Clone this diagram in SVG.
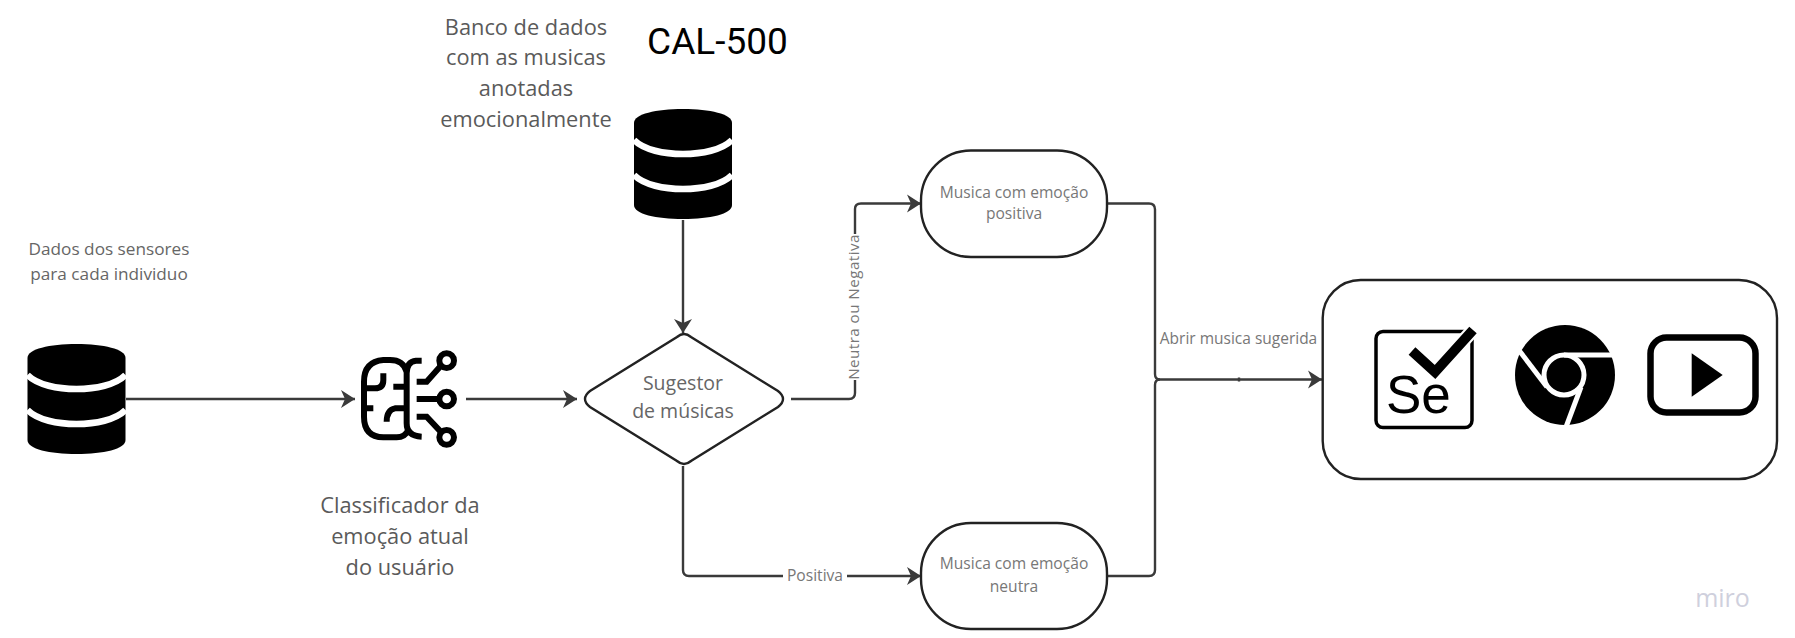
<svg xmlns="http://www.w3.org/2000/svg" width="1795" height="638" viewBox="0 0 1795 638">
<style>
text{font-family:"Open Sans","Liberation Sans",sans-serif;text-anchor:middle;fill:#5a5a5a}
.l{font-size:21.8px}.d{font-size:19.5px;fill:#666}.m{font-size:17.200px;fill:#666}.s{font-size:15.600px;fill:#777}
.c{fill:none;stroke:#3a3a3a;stroke-width:2.400}
.n{fill:#fff;stroke:#222;stroke-width:2.400}
.b{fill:none;stroke:#000;stroke-width:5}
</style>
<defs>
<marker id="a" markerUnits="userSpaceOnUse" markerWidth="18" markerHeight="20" refX="16" refY="10" orient="auto"><path d="M2,1 L16,10 L2,19 L6,10 Z" fill="#3a3a3a"/></marker>
<g id="db"><path d="M0,14C0,5 22,0 49,0S98,5 98,14V96C98,105 76,110 49,110S0,105 0,96Z" fill="#000"/><path d="M0,31C10,41 30,45 49,45S88,41 98,31M0,66C10,76 30,80 49,80S88,76 98,66" fill="none" stroke="#fff" stroke-width="6.500"/></g>
</defs>
<rect width="1795" height="638" fill="#fff"/>
<g id="connectors">
<path class="c" d="M126,399H355" marker-end="url(#a)"/>
<path class="c" d="M466,399H577" marker-end="url(#a)"/>
<path class="c" d="M683,220V333" marker-end="url(#a)"/>
<path class="c" d="M791,399H849Q855,399 855,393V380M855,234V209Q855,203.500 861,203.500H921" marker-end="url(#a)"/>
<path class="c" d="M683,466V570Q683,576 689,576H783M847,576H921" marker-end="url(#a)"/>
<path class="c" d="M1107,203.500H1149Q1155,203.500 1155,209.500V374Q1155,379.500 1160,379.500H1322" marker-end="url(#a)"/>
<path class="c" d="M1107,576H1149Q1155,576 1155,570V385Q1155,379.500 1160,379.500"/>
<path class="c" d="M1239,377.500V381.500" stroke-width="1"/>
<text class="s" transform="translate(859,307) rotate(-90)" style="font-size:15.200px;letter-spacing:.45px">Neutra ou Negativa</text>
<text class="s" x="815" y="581">Positiva</text>
<text x="1238.500" y="344" style="font-size:15.500px;fill:#777">Abrir musica sugerida</text>
</g>
<g id="db-sensores"><use href="#db" x="27.500" y="344"/><text class="m" x="109" y="254.500">Dados dos sensores</text><text class="m" x="109" y="280">para cada individuo</text></g>
<g id="classificador">
<g transform="translate(340,330) scale(.3333)" fill="none" stroke="#000" stroke-width="18">
<path d="M245,92H228Q200,95 200,130V280Q200,318 245,320"/>
<path d="M200,125Q190,90 150,90H130Q72,95 72,155V260Q72,320 130,322H170Q195,322 205,300"/>
<path d="M72,175H105Q130,175 130,150V130M72,235H100M160,170H200M200,235H165Q140,240 140,275"/>
<path d="M230,155H260L302,108M230,207H298M230,260H260L302,305"/>
<circle cx="320" cy="92" r="22"/><circle cx="320" cy="207" r="22"/><circle cx="320" cy="322" r="22"/>
</g>
<text class="l" x="400" y="512.500">Classificador da</text><text class="l" x="400" y="543.500">emoção atual</text><text class="l" x="400" y="574.500">do usuário</text>
</g>
<g id="db-musicas"><use href="#db" x="634" y="109"/>
<text class="l" x="526" y="35">Banco de dados</text><text class="l" x="526" y="65">com as musicas</text><text class="l" x="526" y="96">anotadas</text><text class="l" x="526" y="127">emocionalmente</text>
<text x="717.500" y="53.700" style="font-family:Roboto,'Liberation Sans',sans-serif;font-size:37px;fill:#000">CAL-500</text></g>
<g id="sugestor"><path class="n" d="M677,337Q684,331 691,337L778,391Q788,399 778,407L691,461Q684,467 677,461L590,407Q580,399 590,391Z"/><text class="d" x="683" y="390">Sugestor</text><text class="d" x="683" y="418">de músicas</text></g>
<g id="positiva"><rect class="n" x="921" y="150.500" width="186" height="106.500" rx="50" ry="50"/><text class="s" x="1014" y="197.500">Musica com emoção</text><text class="s" x="1014" y="219">positiva</text></g>
<g id="neutra"><rect class="n" x="921" y="523" width="186" height="106" rx="50" ry="50"/><text class="s" x="1014" y="569">Musica com emoção</text><text class="s" x="1014" y="591.500">neutra</text></g>
<g id="player"><rect class="n" x="1322.700" y="280" width="454.300" height="199" rx="38" ry="38"/>
<rect class="b" style="stroke-width:3.500" x="1376" y="331.500" width="96" height="96" rx="7"/>
<path d="M1412,351L1435,372L1473,330" fill="none" stroke="#fff" stroke-width="14"/>
<path d="M1412,351L1435,372L1473,330" fill="none" stroke="#000" stroke-width="10"/>
<text x="1386" y="413" style="font-family:'Liberation Sans',sans-serif;font-size:53px;text-anchor:start;fill:#000">Se</text>
<circle cx="1565" cy="375" r="50" fill="#000"/>
<g transform="translate(1564,375)" fill="none" stroke="#fff" stroke-width="5"><circle r="20"/><path d="M0,-20H60"/><path d="M17,12L2,52"/><path d="M-17,12L-46,-26"/></g>
<rect x="1650.500" y="337.500" width="105" height="75" rx="16" fill="none" stroke="#000" stroke-width="6.500"/>
<path d="M1691.700,353.300L1722.700,375L1691.700,396.700Z" fill="#000"/>
</g>
<text id="miro" x="1722.500" y="607" style="font-size:25px;font-weight:500;fill:#cfd0dd">miro</text>
</svg>
